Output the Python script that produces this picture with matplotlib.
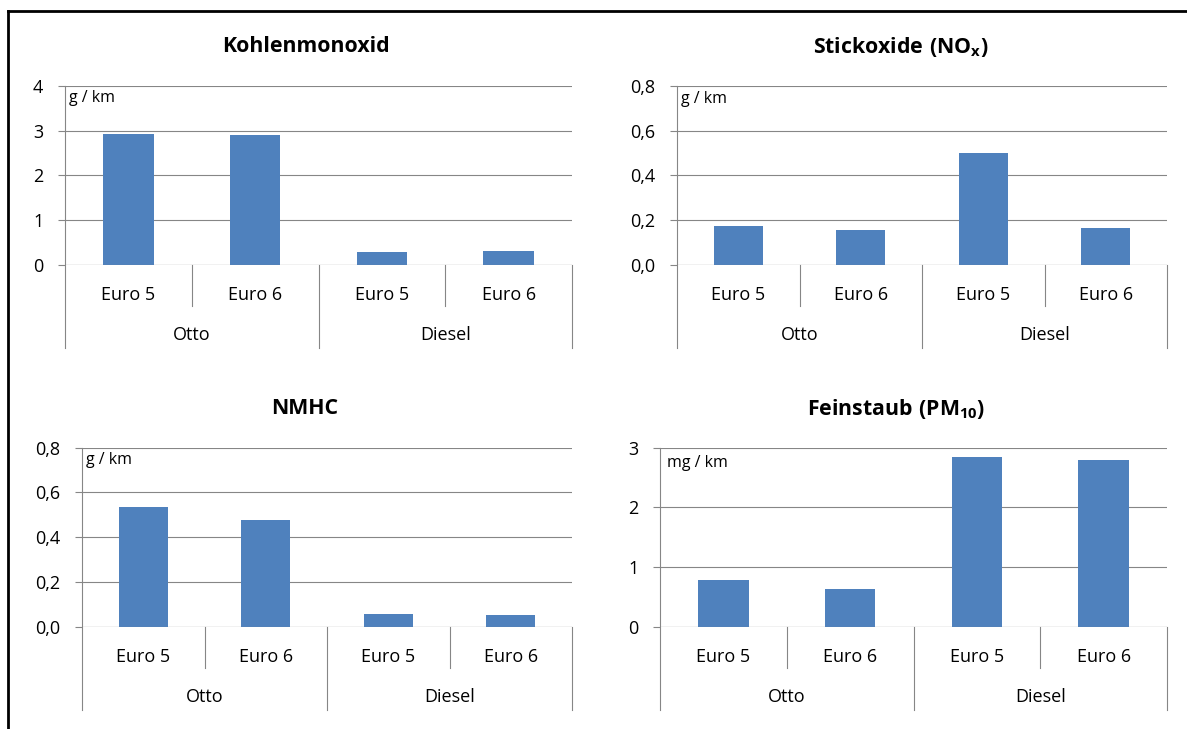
import matplotlib
matplotlib.use("Agg")
import matplotlib.pyplot as plt
from matplotlib.lines import Line2D

base = 'Open Sans'
plt.rcParams['font.family'] = [base, 'DejaVu Sans']
plt.rcParams['mathtext.fontset'] = 'custom'
plt.rcParams['mathtext.bf'] = base + ':bold'
plt.rcParams['mathtext.rm'] = base

# ---- data ----
levels = ["Euro 5", "Euro 6", "Euro 5", "Euro 6"]
groups = ["Otto", "Diesel"]
co_values = [2.93, 2.90, 0.29, 0.31]
nox_values = [0.173, 0.156, 0.498, 0.165]
nmhc_values = [0.536, 0.477, 0.055, 0.052]
pm10_values = [0.78, 0.64, 2.84, 2.79]

titles = ["Kohlenmonoxid", r"$\mathbf{Stickoxide\ (NO_x)}$",
          "NMHC", r"$\mathbf{Feinstaub\ (PM_{10})}$"]
units = ["g / km", "g / km", "g / km", "mg / km"]
yticks_list = [[0, 1, 2, 3, 4], [0, 0.2, 0.4, 0.6, 0.8],
               [0, 0.2, 0.4, 0.6, 0.8], [0, 1, 2, 3]]
ytick_labels_list = [["0", "1", "2", "3", "4"],
                     ["0,0", "0,2", "0,4", "0,6", "0,8"],
                     ["0,0", "0,2", "0,4", "0,6", "0,8"],
                     ["0", "1", "2", "3"]]
values_list = [co_values, nox_values, nmhc_values, pm10_values]

W, H = 1187, 729
fig = plt.figure(figsize=(W / 100, H / 100), dpi=100)

# pixel rects: x0, x1, ytop, ybottom
rects = [(65, 572, 85.7, 265), (677, 1167, 85.7, 265),
         (82, 572, 447.7, 626.7), (660, 1167, 447.7, 626.7)]
title_pos = [(306, 47), (901, 47), (305, 409), (896, 409)]
unit_off = [(4, 12), (4, 13), (4, 12), (7, 15)]

BAR = '#4F81BD'
GRID = '#868686'
FS = 13

for i in range(4):
    x0, x1, yt, yb = rects[i]
    hpx = yb - yt
    ax = fig.add_axes([x0 / W, 1 - yb / H, (x1 - x0) / W, hpx / H])
    vals = values_list[i]
    ax.bar(range(len(vals)), vals, width=0.4, color=BAR, zorder=3)
    ax.set_xlim(-0.5, 3.5)
    ax.set_ylim(0, yticks_list[i][-1])
    ax.set_yticks(yticks_list[i])
    ax.set_yticklabels(ytick_labels_list[i], fontsize=FS)
    ax.set_xticks([])
    for s in ax.spines.values():
        s.set_visible(False)
    ax.tick_params(axis='y', length=5, width=0.8, color=GRID, pad=10.5)
    ax.yaxis.grid(True, color=GRID, linewidth=0.8)
    ax.set_axisbelow(True)
    ax.axhline(0, color=GRID, linewidth=0.8, zorder=4)

    trans = ax.get_xaxis_transform()
    lvl1 = -41 / hpx
    lvl2 = -83 / hpx
    ax.add_line(Line2D([-0.5, -0.5], [1, lvl2], transform=trans, color=GRID,
                       lw=0.8, clip_on=False))
    for xv in [1.5, 3.5]:
        ax.add_line(Line2D([xv, xv], [0, lvl2], transform=trans, color=GRID,
                           lw=0.8, clip_on=False))
    for xv in [0.5, 2.5]:
        ax.add_line(Line2D([xv, xv], [0, lvl1], transform=trans, color=GRID,
                           lw=0.8, clip_on=False))
    for k, lab in enumerate(levels):
        ax.text(k, -30 / hpx, lab, transform=trans, ha='center', va='center',
                fontsize=FS)
    for g, lab in enumerate(groups):
        ax.text(0.5 + 2 * g, -70 / hpx, lab, transform=trans, ha='center',
                va='center', fontsize=FS)

    ox, oy = unit_off[i]
    ax.text(ox / (x1 - x0), 1 - oy / hpx, units[i], transform=ax.transAxes,
            ha='left', va='center', fontsize=11.5)

    tx, ty = title_pos[i]
    fig.text(tx / W, 1 - ty / H, titles[i], ha='center', va='center',
             fontsize=15.3, fontweight='bold')

# outer frame (left and top edges visible)
fig.add_artist(Line2D([8 / W, 8 / W], [0, 1 - 11 / H], color='black', lw=2,
                      transform=fig.transFigure))
fig.add_artist(Line2D([8 / W, 1], [1 - 11 / H, 1 - 11 / H], color='black', lw=2,
                      transform=fig.transFigure))

fig.savefig('out.png', dpi=100)
